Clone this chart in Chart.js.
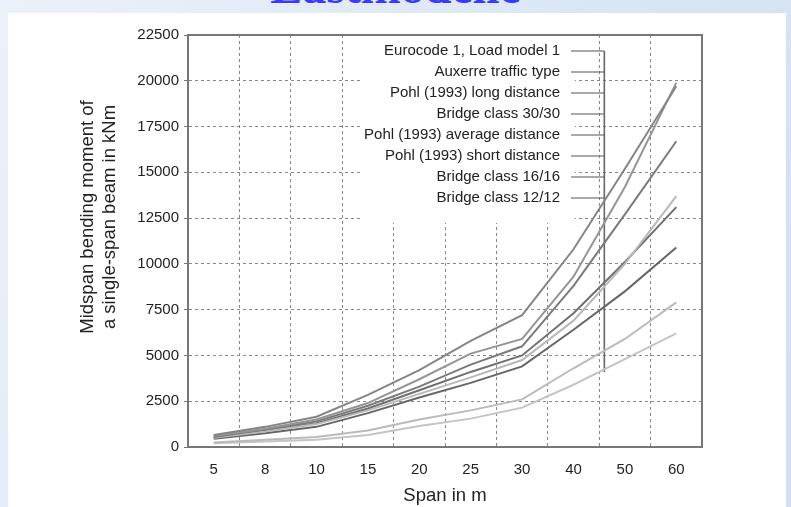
<!DOCTYPE html>
<html>
<head>
<meta charset="utf-8">
<script src="https://cdn.jsdelivr.net/npm/chart.js@4.4.0/dist/chart.umd.min.js"></script>
<style>
  body { margin: 0; width: 791px; height: 507px; overflow: hidden; position: relative;
         background: linear-gradient(115deg, #ebf1f9 0%, #d9e6f4 60%, #d0e0f2 100%); }
  #head { position: absolute; left: 0; top: -37px; width: 791px; text-align: center;
          font: bold 48px "Liberation Serif", serif; color: #3a3aff; line-height: 48px; }
  #panel { position: absolute; left: 8px; top: 13px; width: 778px; height: 494px; background: #fff; }
  #wrap { position: absolute; left: 0; top: 0; width: 791px; height: 507px; }
</style>
</head>
<body>
<div id="head">Lastmodelle</div>
<div id="panel"></div>
<div id="wrap"><canvas id="chart"></canvas></div>
<script>
// Span categories (m)
var spans = ['5', '8', '10', '15', '20', '25', '30', '40', '50', '60'];

// Midspan bending moments (kNm)
var eurocodeLM1   = [650, 1100, 1650, 2850, 4200, 5800, 7200, 10800, 15200, 19700];
var auxerre       = [600, 1000, 1500, 2400, 3700, 5100, 5900, 9300, 14200, 19900];
var pohlLong      = [550, 950, 1400, 2250, 3300, 4500, 5500, 8800, 12700, 16700];
var bridge3030    = [500, 850, 1250, 2000, 2900, 3800, 4750, 6900, 10000, 13700];
var pohlAverage   = [550, 900, 1300, 2100, 3100, 4100, 5000, 7300, 10100, 13100];
var pohlShort     = [450, 750, 1100, 1850, 2700, 3500, 4400, 6400, 8500, 10900];
var bridge1616    = [250, 400, 550, 900, 1500, 2000, 2600, 4300, 5900, 7900];
var bridge1212    = [200, 300, 400, 650, 1150, 1550, 2150, 3400, 4800, 6200];

var seriesNames = ['Eurocode 1, Load model 1', 'Auxerre traffic type', 'Pohl (1993) long distance',
    'Bridge class 30/30', 'Pohl (1993) average distance', 'Pohl (1993) short distance',
    'Bridge class 16/16', 'Bridge class 12/12'];
var seriesData = [eurocodeLM1, auxerre, pohlLong, bridge3030, pohlAverage, pohlShort, bridge1616, bridge1212];
var seriesColors = ['#858585', '#959595', '#7a7a7a', '#b8b8b8', '#707070', '#666666', '#bababa', '#c4c4c4'];

var yTicks = [0, 2500, 5000, 7500, 10000, 12500, 15000, 17500, 20000, 22500];

var FONT = '"Liberation Sans", Arial, sans-serif';

// legend block, box frame and y title
var annotations = {
    id: 'annotations',
    beforeDatasetsDraw: function (chart) {
        var c = chart.ctx, a = chart.chartArea;
        var xs = chart.scales.x, ys = chart.scales.y;
        var textRight = 560, leadStart = 571, rowTop = 51, rowStep = 21;
        var leadX = xs.getPixelForValue(7) + 0.6 * (xs.getPixelForValue(8) - xs.getPixelForValue(7));

        c.save();
        c.font = '15px ' + FONT;
        var maxW = 0;
        seriesNames.forEach(function (n) { maxW = Math.max(maxW, c.measureText(n).width); });
        // white box behind legend
        var boxL = textRight - maxW - 3;
        c.fillStyle = '#fff';
        c.fillRect(boxL, a.top + 1, leadStart + 4 - boxL, 222 - a.top);

        c.fillStyle = '#222';
        c.textAlign = 'right';
        c.textBaseline = 'middle';
        c.strokeStyle = '#555';
        c.lineWidth = 1.2;
        seriesNames.forEach(function (n, i) {
            var y = rowTop + i * rowStep;
            c.fillText(n, textRight, y);
            c.beginPath();
            c.moveTo(leadStart, y);
            c.lineTo(leadX, y);
            c.stroke();
        });
        // vertical collector line
        c.strokeStyle = '#666';
        c.lineWidth = 1.6;
        c.beginPath();
        c.moveTo(leadX, rowTop);
        c.lineTo(leadX, ys.getPixelForValue(4100));
        c.stroke();

        // top / right frame
        c.strokeStyle = '#777';
        c.lineWidth = 2;
        c.beginPath();
        c.moveTo(a.left, a.top);
        c.lineTo(a.right, a.top);
        c.lineTo(a.right, a.bottom);
        c.stroke();

        // y axis title, two lines
        c.fillStyle = '#222';
        c.font = '18.5px ' + FONT;
        c.textAlign = 'center';
        c.translate(99, 217);
        c.rotate(-Math.PI / 2);
        c.fillText('Midspan bending moment of', 0, -11);
        c.fillText('a single-span beam in kNm', 0, 11);
        c.restore();
    }
};

var ctx = document.getElementById('chart');

var chartData = {
    labels: spans,
    datasets: seriesData.map(function (d, i) {
        return {
            label: seriesNames[i],
            data: d,
            borderColor: seriesColors[i],
            borderWidth: 2,
            pointRadius: 0,
            fill: false,
            tension: 0
        };
    })
};

var chartOptions = {
    responsive: false,
    animation: false,
    maintainAspectRatio: false,
    layout: { padding: { left: 0, right: 89, top: 35, bottom: 0 } },
    plugins: {
        legend: { display: false },
        tooltip: { enabled: false }
    },
    scales: {
        x: {
            type: 'category',
            offset: true,
            grid: { offset: true, color: '#888', drawTicks: false, lineWidth: 1 },
            border: { display: true, color: '#777', width: 2, dash: [3, 3] },
            ticks: { color: '#222', font: { family: FONT, size: 15 }, padding: 14, maxRotation: 0 },
            title: { display: true, text: 'Span in m', color: '#222', font: { family: FONT, size: 18.5 }, padding: { top: 0, bottom: 0 } },
            afterFit: function (s) { s.height = 60; }
        },
        y: {
            min: 0,
            max: 22500,
            afterBuildTicks: function (s) { s.ticks = yTicks.map(function (v) { return { value: v }; }); },
            grid: { color: '#888', tickLength: 4, tickColor: '#777', tickBorderDash: [], lineWidth: 1 },
            border: { display: true, color: '#777', width: 2, dash: [3, 3] },
            ticks: { color: '#222', font: { family: FONT, size: 15 }, padding: 5,
                     callback: function (v) { return String(v); } },
            afterFit: function (s) { s.width = 188; }
        }
    }
};

ctx.width = 791;
ctx.height = 507;
new Chart(ctx, { type: 'line', data: chartData, options: chartOptions, plugins: [annotations] });
</script>
</body>
</html>
